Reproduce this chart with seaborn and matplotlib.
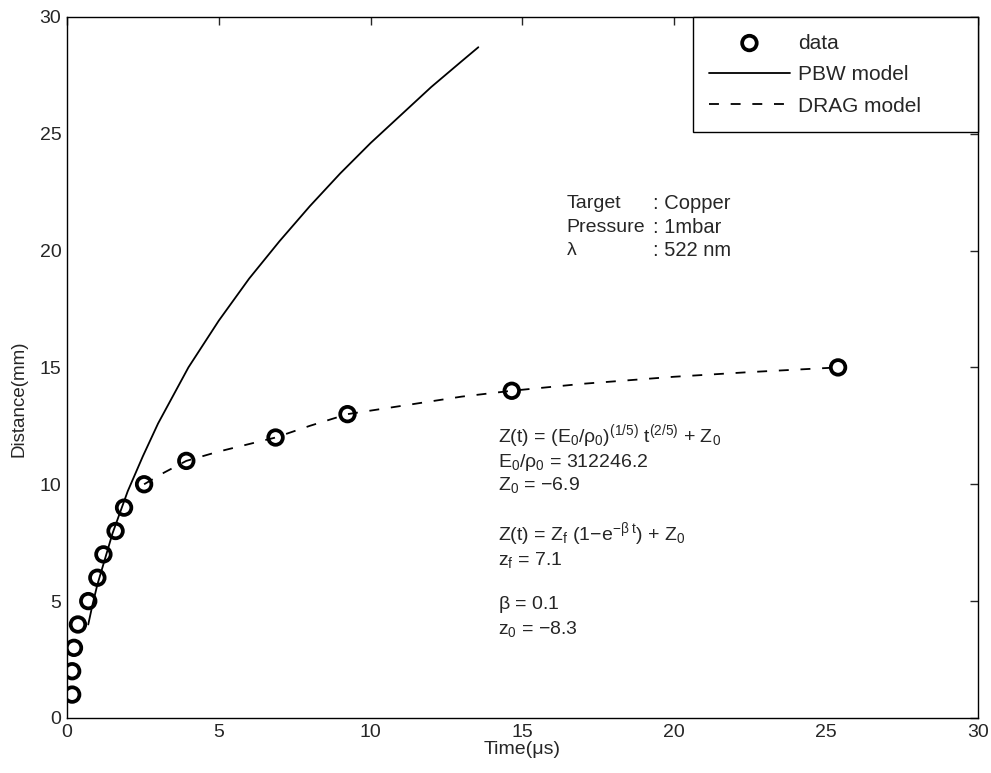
import matplotlib
matplotlib.use("Agg")
import pandas as pd
import seaborn as sns
import matplotlib.pyplot as plt

# measured plume front positions
time_us = [0.17, 0.17, 0.23, 0.36, 0.7, 1.0, 1.2, 1.6, 1.88, 2.54, 3.93, 6.87, 9.24, 14.65, 25.4]
dist_mm = [1, 2, 3, 4, 5, 6, 7, 8, 9, 10, 11, 12, 13, 14, 15]

# PBW model curve
pbw_t = [0.7, 0.85, 1.0, 1.25, 1.5, 1.75, 2.0, 2.5, 3.0, 3.5, 4.0, 4.5, 5.0, 6.0, 7.0,
         8.0, 9.0, 10.0, 11.0, 12.0, 13.0, 13.55]
pbw_z = [4.0, 4.9, 5.7, 6.8, 7.9, 8.8, 9.7, 11.2, 12.6, 13.8, 15.0, 16.0, 17.0, 18.8, 20.4,
         21.9, 23.3, 24.6, 25.8, 27.0, 28.1, 28.7]

# DRAG model curve
drag_t = [2.54, 3.2, 3.93, 5.0, 6.87, 8.0, 9.24, 11.0, 13.0, 14.65, 17.0, 20.0, 22.5, 25.4]
drag_z = [10, 10.5, 11, 11.4, 12, 12.5, 13, 13.35, 13.75, 14, 14.3, 14.6, 14.8, 15]

sns.set_style("white")
plt.rcParams["font.family"] = ["Liberation Sans", "DejaVu Sans"]
plt.rcParams["mathtext.fontset"] = "custom"
plt.rcParams["mathtext.rm"] = "Liberation Sans"
plt.rcParams["mathtext.it"] = "Liberation Sans"
plt.rcParams["mathtext.sf"] = "Liberation Sans"

df = pd.DataFrame({"t": time_us, "z": dist_mm})
pbw = pd.DataFrame({"t": pbw_t, "z": pbw_z})
drag = pd.DataFrame({"t": drag_t, "z": drag_z})

fig = plt.figure(figsize=(9.91, 7.73), dpi=100)
ax = fig.add_axes([0.0676, 0.0712, 0.919, 0.907])

sns.lineplot(data=pbw, x="t", y="z", ax=ax, color="black", lw=1.3, label="PBW model", sort=False)
sns.lineplot(data=drag, x="t", y="z", ax=ax, color="black", lw=1.3, label="DRAG model",
             linestyle=(0, (5.5, 6.5)), sort=False)
sns.scatterplot(data=df, x="t", y="z", ax=ax, marker="o", s=110, facecolor="none",
                edgecolor="black", linewidth=2.7, label="data", zorder=5)

ax.set_xlim(0, 30)
ax.set_ylim(0, 30)
ax.set_xticks(range(0, 31, 5))
ax.set_yticks(range(0, 31, 5))
ax.tick_params(direction="in", top=True, right=True, labelsize=14, length=6, width=1, pad=4)
for sp in ax.spines.values():
    sp.set_color("black")
    sp.set_linewidth(1)
ax.set_xlabel("Time(\u03bcs)", fontsize=14, labelpad=0)
ax.set_ylabel("Distance(mm)", fontsize=13.5, va="center")
ax.yaxis.set_label_coords(-0.053, 0.455)

h, l = ax.get_legend_handles_labels()
order = [l.index("data"), l.index("PBW model"), l.index("DRAG model")]
leg = ax.legend([h[i] for i in order], [l[i] for i in order], loc="upper left",
                bbox_to_anchor=(0.687, 0.0, 0.313, 1.0), mode="expand",
                borderaxespad=0, fancybox=False, edgecolor="black", framealpha=1,
                fontsize=15, handlelength=3.85, handletextpad=0.4, borderpad=0.8,
                labelspacing=0.6)
leg.get_frame().set_linewidth(1)

tx = 16.45
ax.text(tx, 22.0, "Target", fontsize=14, va="center")
ax.text(tx, 21.0, "Pressure", fontsize=14, va="center")
ax.text(tx, 20.0, "\u03bb", fontsize=14, va="center")
ax.text(19.3, 22.0, ": Copper", fontsize=14.5, va="center")
ax.text(19.3, 21.0, ": 1mbar", fontsize=14.5, va="center")
ax.text(19.3, 20.0, ": 522 nm", fontsize=14.5, va="center")

fx = 14.2
lines = [
    (12.05, r"Z(t) = (E$_0$/$\rho_0$)$^{(1/5)}$ t$^{(2/5)}$ + Z$_0$"),
    (10.95, r"E$_0$/$\rho_0$ = 312246.2"),
    (9.95, r"Z$_0$ = $-$6.9"),
    (7.85, r"Z(t) = Z$_f$ (1$-$e$^{-\beta\ t}$) + Z$_0$"),
    (6.75, r"z$_f$ = 7.1"),
    (4.85, r"$\beta$ = 0.1"),
    (3.8, r"z$_0$ = $-$8.3"),
]
for y, s in lines:
    ax.text(fx, y, s, fontsize=14, va="center")

fig.savefig("out.png", dpi=100)
